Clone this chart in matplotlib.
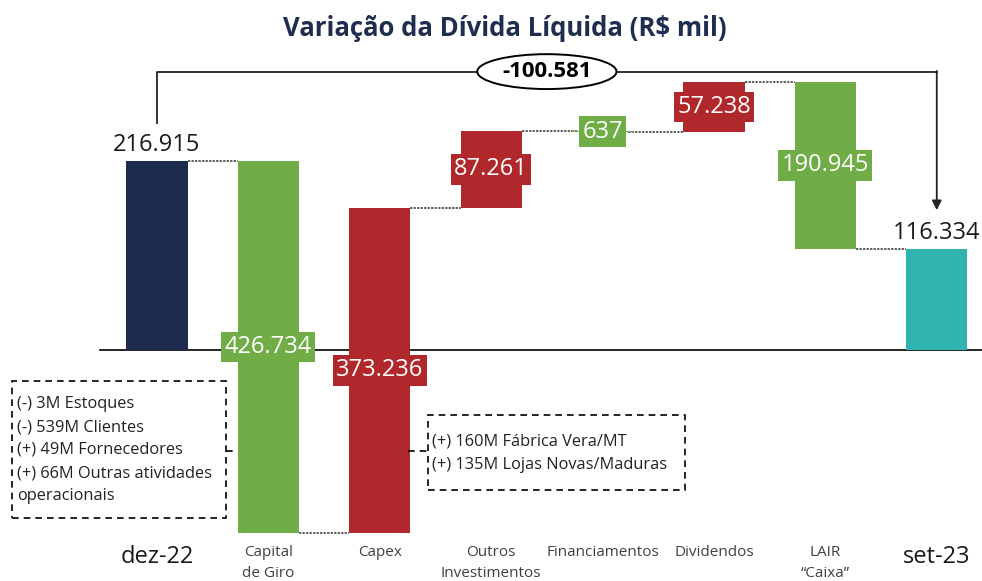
import matplotlib.pyplot as plt
from matplotlib.patches import Rectangle, Ellipse

# === Data ===
categories = ["dez-22", "Capital\nde Giro", "Capex", "Outros\nInvestimentos",
              "Financiamentos", "Dividendos", "LAIR\n\u201cCaixa\u201d", "set-23"]
values = [216.915, -426.734, 373.236, 87.261, -0.637, 57.238, -190.945, 116.334]
value_labels = ["216.915", "426.734", "373.236", "87.261", "637", "57.238", "190.945", "116.334"]
variation_label = "-100.581"
note_left = ["(-) 3M Estoques", "(-) 539M Clientes", "(+) 49M Fornecedores",
             "(+) 66M Outras atividades", "operacionais"]
note_right = ["(+) 160M F\u00e1brica Vera/MT", "(+) 135M Lojas Novas/Maduras"]

# === Colors ===
navy = "#1c2a4d"
teal = "#31b4b1"
green = "#70ad47"
red = "#b1282c"
plt.rcParams["font.family"] = ["Open Sans", "DejaVu Sans"]

fig = plt.figure(figsize=(9.82, 5.81), dpi=100)
ax = fig.add_axes([0, 0, 1, 1])
ax.set_xlim(-1.409, 7.406)
ax.set_ylim(-264.9, 401.4)
ax.axis("off")


def pix(x, y):
    # figure-pixel (from top-left) -> figure fraction
    return x / 982, 1 - y / 581


width = 0.55
n = len(values)

# compute bottoms / tops of the waterfall
bottoms, tops = [], []
level = 0.0
for i, v in enumerate(values):
    if i == 0 or i == n - 1:
        bottoms.append(0.0)
        tops.append(v)
        level = v
    else:
        new = level + v
        bottoms.append(min(level, new))
        tops.append(max(level, new))
        level = new

colors = []
for i, v in enumerate(values):
    if i == 0:
        colors.append(navy)
    elif i == n - 1:
        colors.append(teal)
    else:
        colors.append(red if v > 0 else green)

# zero line
ax.plot([-0.51, 7.5], [0, 0], color="black", lw=1.2, zorder=1)

# bars
for i in range(n):
    ax.bar(i, tops[i] - bottoms[i], bottom=bottoms[i], width=width,
           color=colors[i], zorder=2)

# dotted connectors
level = values[0]
for i in range(n - 1):
    if i > 0:
        level = level + values[i]
    x0 = i + width / 2
    x1 = i + 1 - width / 2
    if i == 3:
        x1 = i + 1 - 0.23
    if i == 4:
        x0 = i + 0.23
    ax.plot([x0, x1], [level, level], color="#333333", lw=1.1,
            linestyle=(0, (1.5, 0.8)), zorder=1)

# value labels
for i in range(n):
    if i == 0 or i == n - 1:
        ax.text(i, tops[i] + 18, value_labels[i], ha="center", va="center",
                fontsize=17, color="#1a1a1a", zorder=4)
    else:
        mid = (tops[i] + bottoms[i]) / 2
        ax.text(i, mid, value_labels[i], ha="center", va="center",
                fontsize=17, color="white", zorder=4,
                bbox=dict(boxstyle="square,pad=0.14", fc=colors[i], ec="none"))

# bracket with total variation
top_level = max(tops) + 12
ax.plot([0, 0, 7], [tops[0] + 44, top_level, top_level], color="#222222",
        lw=1.3, zorder=3)
ax.annotate("", xy=(7, tops[-1] + 44), xytext=(7, top_level + 0.7),
            arrowprops=dict(arrowstyle="-|>", color="#222222", lw=1.3,
                            mutation_scale=14, shrinkA=0, shrinkB=0), zorder=3)
ax.add_patch(Ellipse((3.5, top_level), 1.25, 40, fc="white", ec="black",
                     lw=1.4, zorder=4))
ax.text(3.5, top_level, variation_label, ha="center", va="center",
        fontsize=16, fontweight="bold", color="black", zorder=5)

# dashed note boxes
x0, y0 = pix(12, 518)
x1, y1 = pix(226, 381)
fig.add_artist(Rectangle((x0, y0), x1 - x0, y1 - y0, transform=fig.transFigure,
                         fill=False, ls=(0, (4, 3)), lw=1.2, ec="black"))
for k, line in enumerate(note_left):
    fig.text(*pix(17, 404 + 23 * k), line, ha="left", va="center",
             fontsize=11.8, color="#222222")
fig.add_artist(plt.Line2D(*zip(pix(226, 451), pix(237, 451)),
                          transform=fig.transFigure, color="black", lw=1.2,
                          ls=(0, (4, 3))))

x0, y0 = pix(428, 490)
x1, y1 = pix(685, 415)
fig.add_artist(Rectangle((x0, y0), x1 - x0, y1 - y0, transform=fig.transFigure,
                         fill=False, ls=(0, (4, 3)), lw=1.2, ec="black"))
for k, line in enumerate(note_right):
    fig.text(*pix(432, 441 + 24 * k), line, ha="left", va="center",
             fontsize=11.8, color="#222222")
fig.add_artist(plt.Line2D(*zip(pix(408, 451), pix(428, 451)),
                          transform=fig.transFigure, color="black", lw=1.2,
                          ls=(0, (4, 3))))

# category labels
for i, cat in enumerate(categories):
    xf = pix(157 + 111.4 * i, 0)[0]
    if i == 0 or i == n - 1:
        fig.text(xf, pix(0, 557)[1], cat, ha="center", va="center",
                 fontsize=17, color="#1a1a1a")
    else:
        fig.text(xf, pix(0, 545)[1], cat, ha="center", va="top",
                 fontsize=11, color="#404040", linespacing=1.55)

# title
fig.text(*pix(505, 28), "Varia\u00e7\u00e3o da D\u00edvida L\u00edquida (R$ mil)",
         ha="center", va="center", fontsize=18.5, fontweight="bold", color="#1f2d4e")

plt.savefig("out.png", dpi=100)
